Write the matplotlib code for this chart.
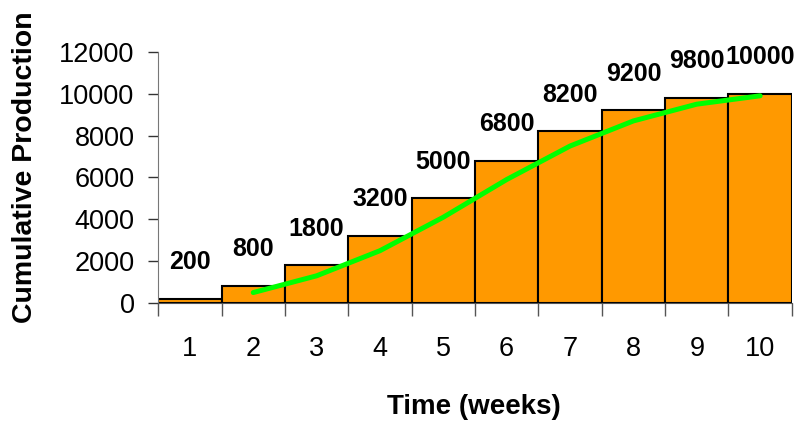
import matplotlib.pyplot as plt

plt.rcParams["font.family"] = ["Liberation Sans", "DejaVu Sans"]

weeks = [1, 2, 3, 4, 5, 6, 7, 8, 9, 10]
production = [200, 800, 1800, 3200, 5000, 6800, 8200, 9200, 9800, 10000]

# two-week moving average trend, starts at week 2
trend_weeks = [2, 3, 4, 5, 6, 7, 8, 9, 10]
trend = [500, 1300, 2500, 4100, 5900, 7500, 8700, 9500, 9900]

fig = plt.figure(figsize=(7.99, 4.25), dpi=100)
ax = fig.add_axes([0.198, 0.287, 0.793, 0.591])

ax.bar(weeks, production, width=1.0, color="#FF9900", edgecolor="black",
       linewidth=1.5, zorder=2)
ax.plot(trend_weeks, trend, color="#00FF00", linewidth=3.6,
        solid_capstyle="round", zorder=3)

for w, p in zip(weeks, production):
    ax.annotate(str(p), xy=(w, p), xytext=(0, 26.5), textcoords="offset points",
                ha="center", va="center", fontsize=18, fontweight="bold")

ax.set_xlim(0.5, 10.5)
ax.set_ylim(0, 12000)
ax.set_yticks(range(0, 12001, 2000))
ax.tick_params(axis="y", direction="out", length=7, width=1, color="#333333",
               pad=10, labelsize=19.5)

# ticks sit on the bar boundaries, labels under the bar centres
ax.set_xticks([x + 0.5 for x in range(0, 11)])
ax.set_xticklabels([])
ax.set_xticks(weeks, minor=True)
ax.set_xticklabels([str(w) for w in weeks], minor=True)
ax.tick_params(axis="x", which="major", direction="out", length=9, width=1,
               color="#555555")
ax.tick_params(axis="x", which="minor", length=0, pad=24, labelsize=19.5)

ax.spines["top"].set_visible(False)
ax.spines["right"].set_visible(False)
ax.spines["left"].set_color("#777777")
ax.spines["bottom"].set_color("#555555")

ax.set_xlabel("Time (weeks)", fontsize=20, fontweight="bold", va="center")
ax.xaxis.set_label_coords(0.498, -0.414)
ax.set_ylabel("Cumulative Production", fontsize=20.5, fontweight="bold",
              va="center")
ax.yaxis.set_label_coords(-0.21, 0.54)

fig.savefig("out.png", dpi=100)
